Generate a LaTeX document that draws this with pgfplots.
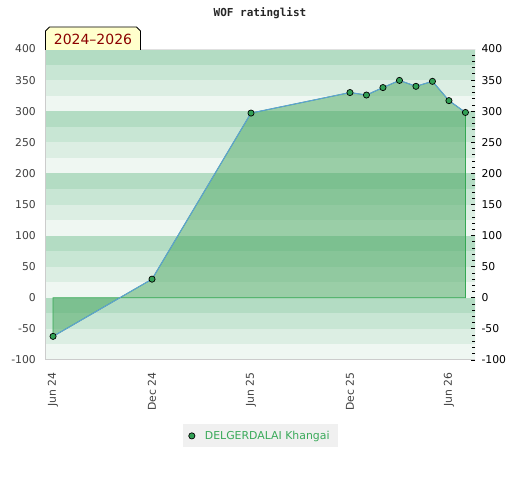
\documentclass[border=0pt]{standalone}
\usepackage{fontspec}
\setmainfont{DejaVu Sans}
\newfontfamily\monofont{DejaVu Sans Mono}
\usepackage{pgfplots}
\pgfplotsset{compat=1.18}
\definecolor{bA}{HTML}{B3DCC3}
\definecolor{bB}{HTML}{C8E6D4}
\definecolor{bC}{HTML}{DCEEE3}
\definecolor{bD}{HTML}{EFF7F2}
\definecolor{areagreen}{RGB}{71,166,94}
\definecolor{edgegreen}{RGB}{52,168,83}
\definecolor{lineblue}{RGB}{95,160,215}
\definecolor{markgreen}{RGB}{50,160,85}
\definecolor{legtext}{RGB}{58,170,90}
\definecolor{lblred}{RGB}{139,0,0}
\definecolor{lblbg}{RGB}{255,255,204}
\pgfplotstableread{
x y
0 -62
6 30
12 297
18 330
19 326
20 338
21 349.5
22 340
23 348
24 317
25 298
}\ratings
\begin{document}
\begin{tikzpicture}
\useasboundingbox (0pt,0pt) rectangle (520pt,480pt);
\node[font=\monofont\bfseries\fontsize{11}{13}\selectfont, text=black!85] at (260pt,467pt) {WOF ratinglist};
\begin{axis}[
  at={(45.3pt,120pt)}, anchor=south west,
  scale only axis, width=429.7pt, height=311pt,
  xmin=-0.47, xmax=25.58, ymin=-100, ymax=400,
  axis line style={draw=none},
  ytick={-100,-50,...,400},
  xtick={0,6,12,18,24},
  xticklabels={Jun 24, Dec 24, Jun 25, Dec 25, Jun 26},
  major tick length=0pt, tick style={draw=none},
  /pgf/number format/assume math mode=true,
  ticklabel style={font=\fontsize{10.8}{12}\selectfont, text=black!75},
  yticklabel style={xshift=-6pt},
  xticklabel style={rotate=90, anchor=east, xshift=-9pt},
  legend style={at={(0.5,-0.244)}, anchor=center, fill=black!6, draw=none,
    font=\fontsize{10.9}{12}\selectfont, text=legtext, inner xsep=6pt, inner ysep=4.5pt},
  legend cell align=left,
]
% background bands
\fill[bA] (axis cs:-1,375) rectangle (axis cs:26,400);
\fill[bB] (axis cs:-1,350) rectangle (axis cs:26,375);
\fill[bC] (axis cs:-1,325) rectangle (axis cs:26,350);
\fill[bD] (axis cs:-1,300) rectangle (axis cs:26,325);
\fill[bA] (axis cs:-1,275) rectangle (axis cs:26,300);
\fill[bB] (axis cs:-1,250) rectangle (axis cs:26,275);
\fill[bC] (axis cs:-1,225) rectangle (axis cs:26,250);
\fill[bD] (axis cs:-1,200) rectangle (axis cs:26,225);
\fill[bA] (axis cs:-1,175) rectangle (axis cs:26,200);
\fill[bB] (axis cs:-1,150) rectangle (axis cs:26,175);
\fill[bC] (axis cs:-1,125) rectangle (axis cs:26,150);
\fill[bD] (axis cs:-1,100) rectangle (axis cs:26,125);
\fill[bA] (axis cs:-1,75) rectangle (axis cs:26,100);
\fill[bB] (axis cs:-1,50) rectangle (axis cs:26,75);
\fill[bC] (axis cs:-1,25) rectangle (axis cs:26,50);
\fill[bD] (axis cs:-1,0) rectangle (axis cs:26,25);
\fill[bA] (axis cs:-1,-25) rectangle (axis cs:26,0);
\fill[bB] (axis cs:-1,-50) rectangle (axis cs:26,-25);
\fill[bC] (axis cs:-1,-75) rectangle (axis cs:26,-50);
\fill[bD] (axis cs:-1,-100) rectangle (axis cs:26,-75);
% area
\addplot[draw=edgegreen, line width=0.8pt, fill=areagreen, fill opacity=0.5, forget plot]
  coordinates {(0,0) (0,-62) (6,30) (12,297) (18,330) (19,326) (20,338) (21,349.5) (22,340) (23,348) (24,317) (25,298) (25,0)} --cycle;
\addplot[color=lineblue, line width=1pt, forget plot] table[x=x,y=y] {\ratings};
\addplot[only marks, mark=*, mark size=3.1pt, mark options={fill=markgreen, draw=black, line width=0.7pt}] table[x=x,y=y] {\ratings};
\addlegendentry{\hspace{8pt}DELGERDALAI Khangai\hspace{1pt}}
\end{axis}
\begin{axis}[
  at={(45.3pt,120pt)}, anchor=south west,
  scale only axis, width=429.7pt, height=311pt,
  xmin=-0.47, xmax=25.58, ymin=-100, ymax=400,
  axis x line=none, axis y line*=right,
  y axis line style={draw=none},
  ytick={-100,-50,...,400}, minor y tick num=4,
  tick align=inside, major tick length=4.5pt, minor tick length=3pt,
  tick style={black, line width=0.8pt},
  /pgf/number format/assume math mode=true,
  yticklabel style={font=\fontsize{10.8}{12}\selectfont, text=black, xshift=3pt},
]
\addplot[draw=none] coordinates {(0,0)};
\end{axis}
\draw[black!20, line width=1pt] (45.3pt,431pt) -- (45.3pt,120pt) -- (475pt,120pt);
\draw[black!12, line width=0.8pt] (45.3pt,431pt) -- (475pt,431pt);
% label box
\draw[fill=lblbg, draw=black, line width=0.8pt] (45.5pt,430pt) -- (45.5pt,449pt) -- (49.5pt,453pt) -- (136.5pt,453pt) -- (140.5pt,449pt) -- (140.5pt,430pt);
\node[font=\fontsize{14}{16}\selectfont, text=lblred] at (93pt,441pt) {2024–2026};
\end{tikzpicture}
\end{document}
